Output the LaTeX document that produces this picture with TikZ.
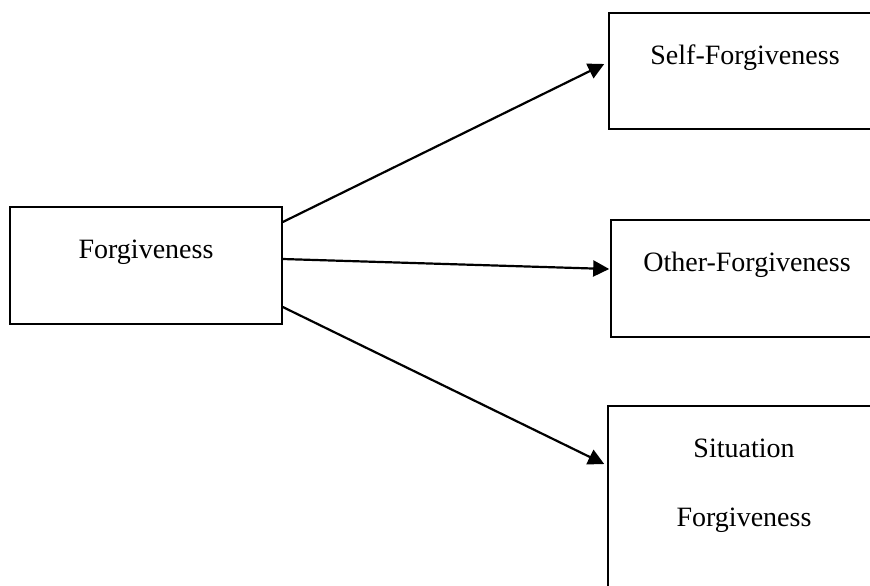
\documentclass[tikz,border=0pt]{standalone}
\usepackage{fontspec}
\setmainfont{Liberation Serif}
\usetikzlibrary{arrows.meta, positioning}

\begin{document}
\begin{tikzpicture}[x=0.5pt, y=-0.5pt,
  box/.style={draw, line width=0.8pt, minimum width=136pt, inner sep=0pt},
  lbl/.style={anchor=base, align=center, font=\fontsize{14}{34.5}\selectfont},
  conn/.style={line width=1.1pt, -{Triangle[length=8pt, width=8pt]}}]
  \useasboundingbox (0,0) rectangle (870,585);
  \clip (0,0) rectangle (870,585);

  % Main concept
  \node[box, minimum height=58.5pt] (forg) at (146,265.5) {};
  \node[lbl] (forgtxt) at ([yshift=-26pt]forg.north) {Forgiveness};

  % Three kinds
  \node[box, minimum height=58pt] (self) at (745,71) {};
  \node[lbl] (selftxt) at ([yshift=-26pt]self.north) {Self-Forgiveness};
  \node[box, minimum height=58.5pt] (other) at (747,278.5) {};
  \node[lbl] (othertxt) at ([yshift=-26pt]other.north) {Other-Forgiveness};
  \node[box, minimum height=95pt] (sit) at (744,501) {};
  \node[lbl] (sittxt) at ([yshift=-60.5pt]sit.north) {Situation\\Forgiveness};

  % Arrows
  \draw[conn] ([yshift=21.75pt]forg.east) -- ([xshift=-2pt, yshift=3.5pt]self.west);
  \draw[conn] ([yshift=3.25pt]forg.east) -- ([xshift=-0.5pt, yshift=4.75pt]other.west);
  \draw[conn] ([yshift=-20.75pt]forg.east) -- ([xshift=-1.5pt, yshift=18.5pt]sit.west);
\end{tikzpicture}
\end{document}
